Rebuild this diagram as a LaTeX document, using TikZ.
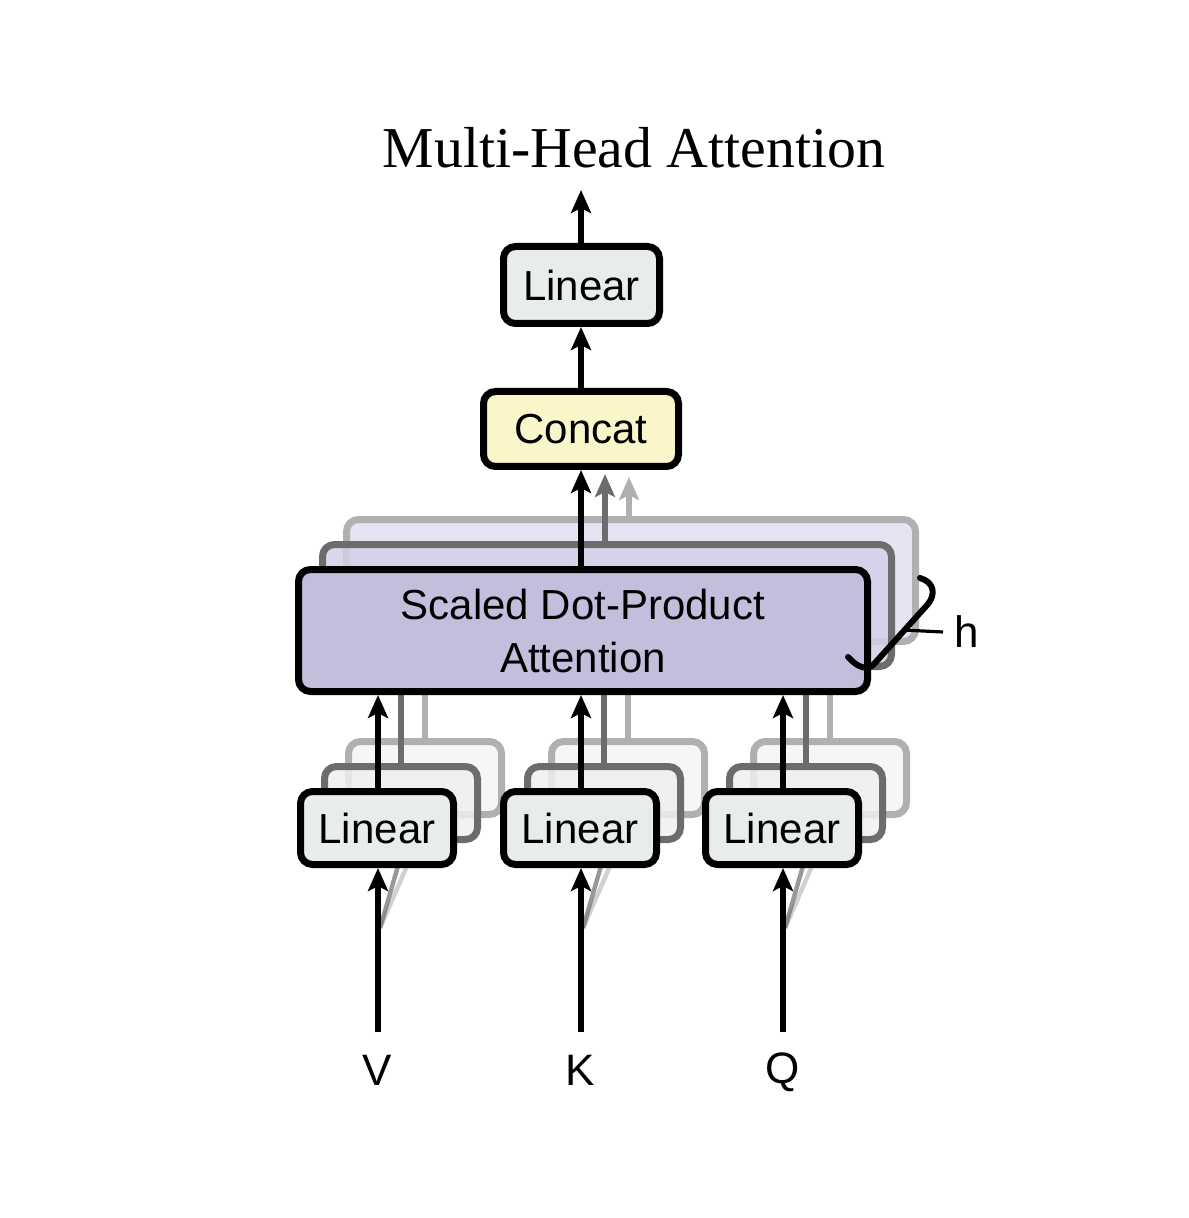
\documentclass[tikz,border=0pt]{standalone}
\usepackage{fontspec}
\setmainfont{Liberation Serif}
\newfontfamily\hv{Liberation Sans}
\usetikzlibrary{arrows.meta}
\definecolor{linfill}{RGB}{233,237,234}
\definecolor{linbackA}{RGB}{238,240,239}
\definecolor{linbackB}{RGB}{245,246,245}
\definecolor{concatfill}{RGB}{250,246,202}
\definecolor{sdpafill}{RGB}{196,190,221}
\definecolor{sdpabackA}{RGB}{213,208,232}
\definecolor{sdpabackB}{RGB}{230,228,242}
\definecolor{edgeA}{RGB}{108,108,108}
\definecolor{edgeB}{RGB}{176,176,176}
\begin{document}
\begin{tikzpicture}[x=0.5pt,y=-0.5pt,
  boxbase/.style={line width=3.5pt, rounded corners=6pt, inner sep=0pt,
    font=\hv\fontsize{21}{26.5}\selectfont},
  frontbox/.style={boxbase, draw=black},
  backboxA/.style={boxbase, draw=edgeA, fill opacity=0.85},
  backboxB/.style={boxbase, draw=edgeB},
  linsize/.style={minimum width=76.5pt, minimum height=36.5pt},
  sdpasize/.style={minimum width=284.5pt, minimum height=61pt},
  arr/.style={line width=3pt, -{Stealth[length=11.5pt,width=10pt,inset=2.5pt]}},
  arrA/.style={arr, draw=edgeA},
  arrB/.style={arr, draw=edgeB},
  fanA/.style={line width=2.2pt, draw=edgeA, opacity=0.7},
  fanB/.style={line width=2.2pt, draw=edgeB, opacity=0.6},
  lbl/.style={font=\hv\fontsize{22}{26}\selectfont, inner sep=0pt}
]
\useasboundingbox (0,0) rectangle (1188,1218);

% ---- Scaled dot-product attention stack (back copies)
\node[backboxB, sdpasize, fill=sdpabackB] (sdpaB2) at (631,580.5) {};
\node[backboxA, sdpasize, fill=sdpabackA] (sdpaB1) at (607,605.5) {};

% ---- lower Linear stacks (back copies)
\foreach \n/\x in {V/377,K/580,Q/782}{
  \node[backboxB, linsize, fill=linbackB] (lin\n B2) at (\x+48,778) {};
}
\foreach \n/\x in {V/377,K/580,Q/782}{
  \node[backboxA, linsize, fill=linbackA] (lin\n B1) at (\x+24,803) {};
}

% ---- gray connectors from back Linear copies to back attention copies
\foreach \n in {V,K,Q}{
  \draw[arrB] (lin\n B2.north) -- (lin\n B2.north |- sdpaB2.south);
  \draw[arrA] (lin\n B1.north) -- (lin\n B1.north |- sdpaB1.south);
}

% ---- gray connectors from back attention copies to Concat
\coordinate (cA) at (605,474);
\coordinate (cB) at (629,477);
\draw[arrB] (cB |- sdpaB2.north) -- (cB);
\draw[arrA] (cA |- sdpaB1.north) -- (cA);

% ---- front attention box
\node[frontbox, sdpasize, fill=sdpafill, align=center] (sdpa) at (583,630.5)
  {Scaled Dot-Product\\Attention};

% ---- inputs and fan lines
\foreach \n/\x in {V/377,K/580,Q/782}{
  \coordinate (in\n) at (\x+1,1032);
  \coordinate (fan\n) at (\x+3,928);
  \draw[fanB] (fan\n) -- (\x+30,866);
  \draw[fanA] (fan\n) -- (\x+21,866);
}

% ---- front Linear boxes
\foreach \n/\x in {V/377,K/580,Q/782}{
  \node[frontbox, linsize, fill=linfill] (lin\n) at (\x,828) {Linear};
}
\foreach \n in {V,K,Q}{
  \draw[arr] (in\n) -- (lin\n.south -| in\n);
  \draw[arr] (lin\n.north -| in\n) -- (in\n |- sdpa.south);
}

% ---- labels of inputs
\node[lbl] (labV) at (377,1070) {V};
\node[lbl] (labK) at (580,1070) {K};
\node[lbl] (labQ) at (783,1072) {Q};

% ---- Concat and top Linear
\node[frontbox, fill=concatfill, minimum width=97.5pt, minimum height=37.5pt] (concat) at (581,429) {Concat};
\node[frontbox, fill=linfill, minimum width=78pt, minimum height=38.5pt] (linT) at (581.5,285) {Linear};
\coordinate (out) at (581.5,190);

\draw[arr] (concat.south |- sdpa.north) -- (concat.south);
\draw[arr] (concat.north) -- (linT.south -| concat.north);
\draw[arr] (linT.north -| concat.north) -- (out -| concat.north);

% ---- h brace
\coordinate (hb1) at (920,578);
\coordinate (hb2) at (848,657);
\draw[line width=3pt, line cap=round, line join=round]
  (hb1) .. controls (934,582) and (936,594) .. (928,604)
  -- (874,664) .. controls (868,671) and (858,668) .. (hb2);
\node[lbl] (h) at (967,632) {h};
\coordinate (htick) at (903,630);
\draw[line width=1.6pt] (htick) -- (h.west -| 943,0);

% ---- title
\node[font=\fontsize{28.9}{32}\selectfont, inner sep=0pt] (title) at (634,148) {Multi-Head Attention};
\end{tikzpicture}
\end{document}
